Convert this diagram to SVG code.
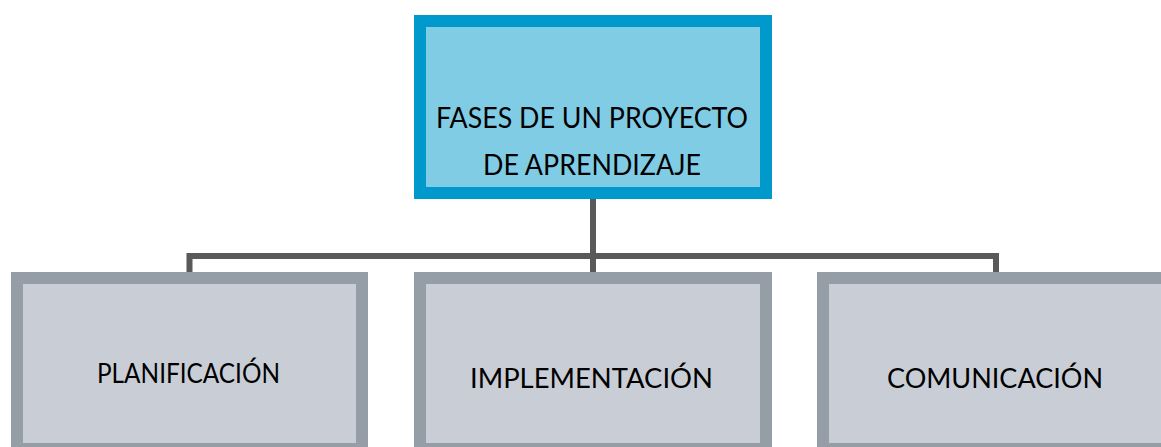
<svg xmlns="http://www.w3.org/2000/svg" width="1161" height="447" viewBox="0 0 1161 447">
<style>
.top{fill:#80CCE5;stroke:#0099CC;stroke-width:12}
.sub{fill:#C9CED6;stroke:#959DA6;stroke-width:12}
.conn{fill:none;stroke:#595959;stroke-width:6}
text{font-family:Lato,"Liberation Sans",sans-serif;fill:#000;text-anchor:middle}
.t1{font-size:28px}
.t2{font-size:27px}
</style>
<rect width="1161" height="447" fill="#fff"/>
<g id="connectors">
<line class="conn" x1="593" y1="199" x2="593" y2="272"/>
<polyline class="conn" points="189.5,272 189.5,256 996,256 996,272"/>
</g>
<g id="node-root">
<rect class="top" x="420" y="21" width="346" height="172"/>
<text class="t1" x="592" y="128" textLength="312" lengthAdjust="spacingAndGlyphs">FASES DE UN PROYECTO</text>
<text class="t1" x="592" y="175" textLength="218" lengthAdjust="spacingAndGlyphs">DE APRENDIZAJE</text>
</g>
<g id="node-planificacion">
<rect class="sub" x="17" y="278" width="345" height="171"/>
<text class="t2" x="188.5" y="383" textLength="183" lengthAdjust="spacingAndGlyphs">PLANIFICACIÓN</text>
</g>
<g id="node-implementacion">
<rect class="sub" x="420" y="278" width="346" height="171"/>
<text class="t2" x="591.5" y="388" textLength="243" lengthAdjust="spacingAndGlyphs">IMPLEMENTACIÓN</text>
</g>
<g id="node-comunicacion">
<rect class="sub" x="823" y="278" width="345" height="171"/>
<text class="t2" x="995" y="388" textLength="216" lengthAdjust="spacingAndGlyphs">COMUNICACIÓN</text>
</g>
</svg>
